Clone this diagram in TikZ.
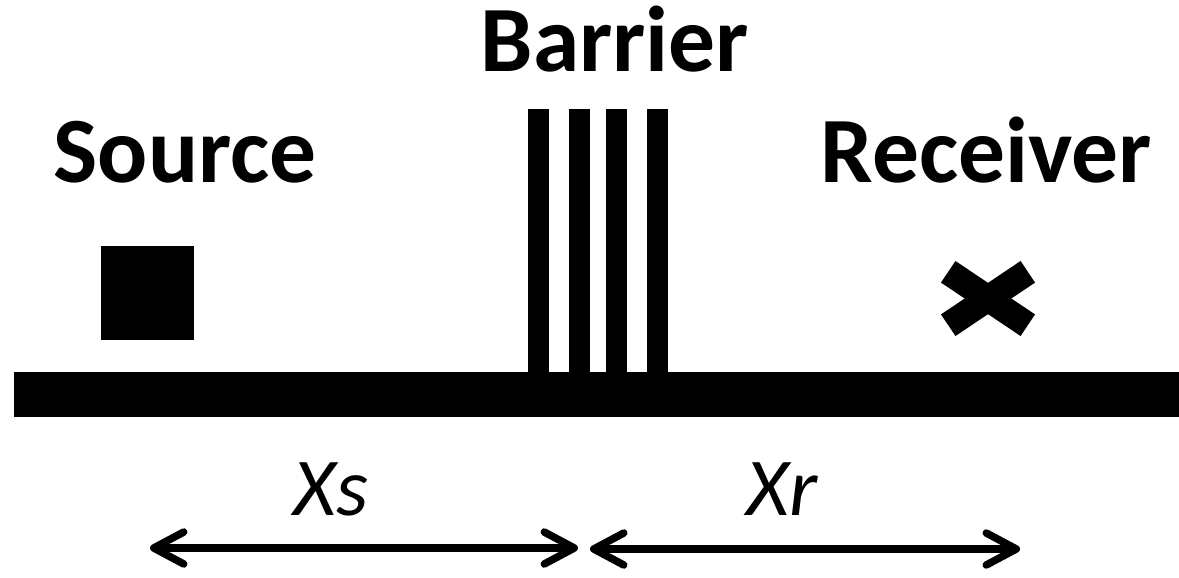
\documentclass[tikz,border=0pt]{standalone}
\usepackage{fontspec}
\setmainfont{Carlito}
\usetikzlibrary{arrows.meta,positioning}

\begin{document}
\begin{tikzpicture}[
  title/.style={font=\fontsize{26.6}{30}\selectfont\bfseries, inner sep=0pt, anchor=base west},
  dist/.style={font=\fontsize{23.4}{28}\selectfont\itshape, inner sep=0pt, anchor=base},
  span/.style={line width=0.075cm, {Straight Barb[round,length=0.30cm,width=0.32cm]}-{Straight Barb[round,length=0.30cm,width=0.32cm]}}]
  \useasboundingbox (0,0) rectangle (11.79,5.77);
  % ground, source, barrier, receiver
  \fill (0.14,1.60) rectangle (11.79,2.05);
  \fill (1.01,2.37) rectangle (1.94,3.31);
  \foreach \x in {5.28,5.69,6.06,6.47}
    \fill (\x,2.05) rectangle ++(0.21,2.63);
  \draw[line width=0.26cm] (9.482,2.518) -- (10.278,3.052);
  \draw[line width=0.26cm] (9.482,3.052) -- (10.278,2.518);
  % labels
  \node[title] (barrier) at (4.80,5.053) {Barrier};
  \node[title] (source) at (0.53,3.95) {Source};
  \node[title] (receiver) at (8.20,3.95) {Receiver};
  % distances
  \coordinate (xs-l) at (1.50,0.29);
  \coordinate (xs-r) at (5.78,0.29);
  \coordinate (xr-l) at (5.90,0.28);
  \coordinate (xr-r) at (10.20,0.28);
  \draw[span] (xs-l) -- (xs-r);
  \draw[span] (xr-l) -- (xr-r);
  \node[dist] (xs) at (3.31,0.62) {Xs};
  \node[dist] (xr) at (7.82,0.62) {Xr};
\end{tikzpicture}
\end{document}
